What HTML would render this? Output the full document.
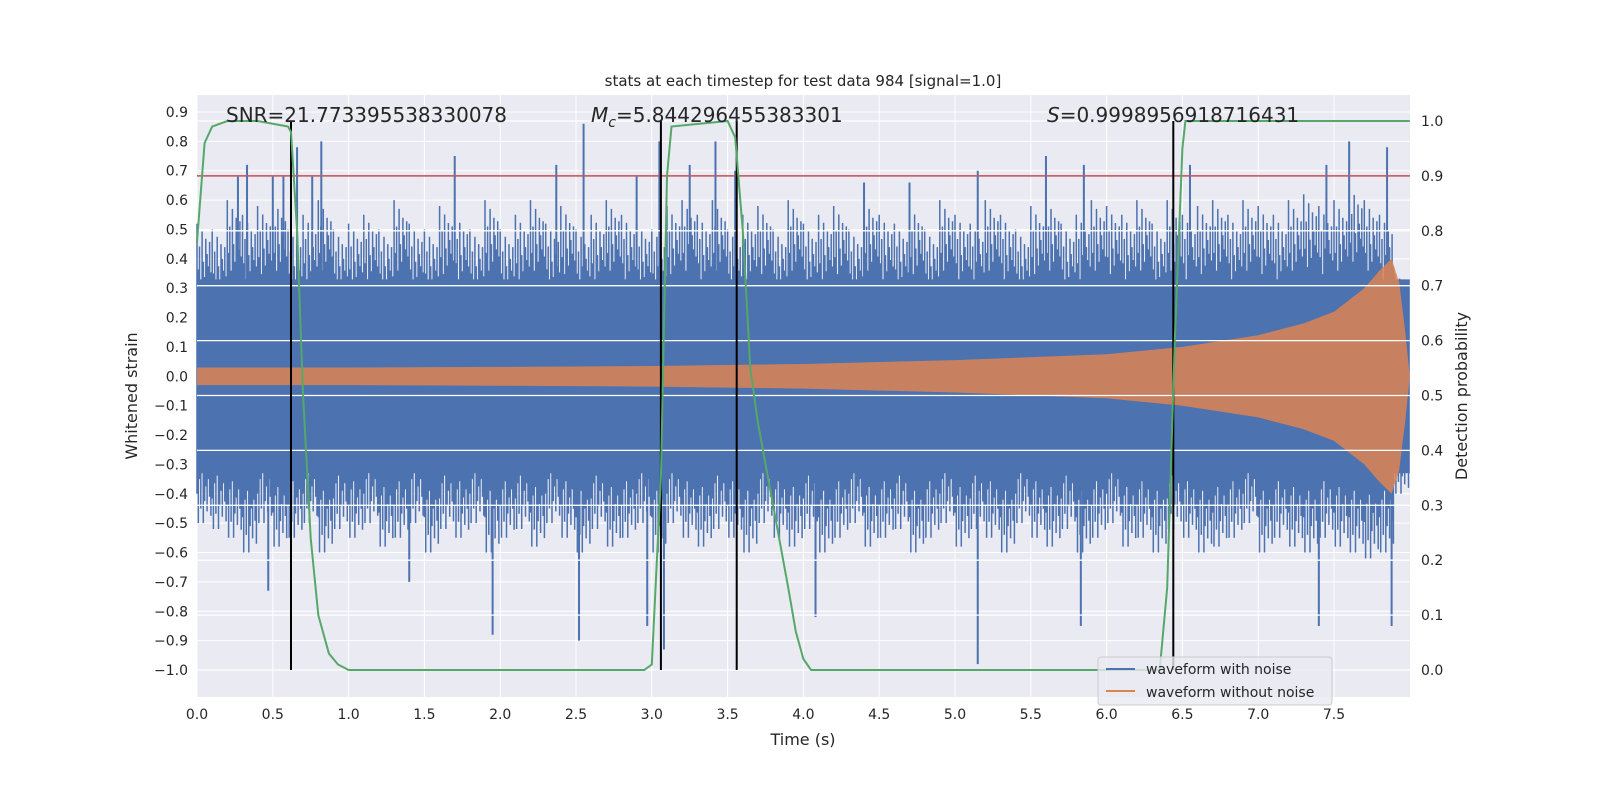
<!DOCTYPE html>
<html><head><meta charset="utf-8"><style>
html,body{margin:0;padding:0;width:1600px;height:800px;overflow:hidden;background:#fff}
svg{display:block}
svg text{font-family:"DejaVu Sans","Liberation Sans",sans-serif;fill:#262626}
</style></head><body>
<svg id="chart" width="1600" height="800" viewBox="0 0 1600 800">
<rect x="197" y="95" width="1213" height="602" fill="#eaeaf2"/>
<g id="grid"></g>
<g id="blue"></g>
<g id="orange"></g>
<g id="marks"></g>
<g id="green"></g>
<g id="axes"></g>
<text x="803" y="86" font-size="15" text-anchor="middle">stats at each timestep for test data 984 [signal=1.0]</text>
<text x="226" y="122" font-size="20">SNR=21.773395538330078</text>
<text x="591" y="122" font-size="20"><tspan font-style="italic">M</tspan><tspan font-size="14" dy="5" font-style="italic">c</tspan><tspan dy="-5">=5.844296455383301</tspan></text>
<text x="1047" y="122" font-size="20"><tspan font-style="italic">S</tspan>=0.9998956918716431</text>
<text x="803" y="745" font-size="16" text-anchor="middle">Time (s)</text>
<text transform="translate(137,396) rotate(-90)" font-size="16" text-anchor="middle">Whitened strain</text>
<text transform="translate(1467,396) rotate(-90)" font-size="16" text-anchor="middle">Detection probability</text>
<g>
<rect x="1098" y="657" width="234" height="48" rx="3" fill="#eaeaf2" fill-opacity="0.8" stroke="#ccc"/>
<line x1="1106" y1="669" x2="1135" y2="669" stroke="#4c72b0" stroke-width="2"/>
<text x="1146" y="674" font-size="14">waveform with noise</text>
<line x1="1106" y1="691" x2="1135" y2="691" stroke="#dd8452" stroke-width="2"/>
<text x="1146" y="697" font-size="14">waveform without noise</text>
</g>
</svg>
<script>
// data
const xTicks=[0,0.5,1,1.5,2,2.5,3,3.5,4,4.5,5,5.5,6,6.5,7,7.5];
const yTicks=[0.9,0.8,0.7,0.6,0.5,0.4,0.3,0.2,0.1,0,-0.1,-0.2,-0.3,-0.4,-0.5,-0.6,-0.7,-0.8,-0.9,-1.0];
const y2Ticks=[0,0.1,0.2,0.3,0.4,0.5,0.6,0.7,0.8,0.9,1.0];
// blue envelope sampled every 0.1s
const noiseUpper=[0.52,0.5,0.6,0.55,0.58,0.6,0.5,0.55,0.6,0.5,0.52,0.55,0.5,0.6,0.52,0.5,0.58,0.55,0.5,0.6,0.5,0.55,0.6,0.52,0.58,0.5,0.55,0.6,0.55,0.52,0.5,0.58,0.6,0.55,0.6,0.5,0.55,0.58,0.5,0.6,0.52,0.55,0.58,0.5,0.6,0.55,0.52,0.58,0.5,0.6,0.55,0.52,0.6,0.55,0.5,0.58,0.6,0.52,0.55,0.6,0.58,0.55,0.6,0.52,0.6,0.55,0.58,0.6,0.55,0.6,0.58,0.55,0.6,0.62,0.58,0.6,0.65,0.6,0.55,0.35];
const noiseLower=[-0.5,-0.52,-0.55,-0.6,-0.5,-0.58,-0.55,-0.5,-0.6,-0.52,-0.55,-0.5,-0.58,-0.55,-0.5,-0.6,-0.52,-0.55,-0.5,-0.6,-0.55,-0.52,-0.58,-0.5,-0.55,-0.6,-0.52,-0.58,-0.55,-0.5,-0.6,-0.5,-0.55,-0.58,-0.52,-0.55,-0.6,-0.5,-0.55,-0.58,-0.52,-0.6,-0.55,-0.5,-0.58,-0.55,-0.52,-0.6,-0.55,-0.5,-0.58,-0.52,-0.55,-0.6,-0.5,-0.55,-0.58,-0.52,-0.6,-0.55,-0.5,-0.58,-0.55,-0.6,-0.52,-0.55,-0.6,-0.58,-0.55,-0.5,-0.6,-0.55,-0.58,-0.6,-0.55,-0.58,-0.6,-0.62,-0.6,-0.4];
// tall spikes [time, value]
const spikeTimes=[0.27,0.33,0.5,0.57,0.66,0.76,0.82,1.7,2.37,2.55,2.9,3.05,3.25,3.42,3.55,4.4,4.7,5.15,5.6,5.85,6.55,7.45,7.6,7.85,0.47,1.4,1.95,2.52,2.97,3.08,4.08,5.15,5.83,7.4,7.88];
const spikeVals=[0.68,0.72,0.68,0.68,0.78,0.68,0.8,0.75,0.72,0.86,0.68,0.8,0.72,0.8,0.7,0.66,0.66,0.7,0.75,0.72,0.72,0.72,0.8,0.78,-0.73,-0.7,-0.88,-0.9,-0.85,-0.93,-0.82,-0.98,-0.85,-0.85,-0.85];
// orange envelope
const cleanT=[0,1,2,3,4,5,6,6.5,7,7.3,7.5,7.7,7.8,7.88,7.93,7.97,8.0];
const cleanAmp=[0.03,0.03,0.032,0.035,0.042,0.055,0.075,0.1,0.14,0.18,0.22,0.3,0.36,0.4,0.32,0.15,0.0];
// detection probability
const probT=[0,0.05,0.1,0.2,0.4,0.6,0.62,0.66,0.7,0.75,0.8,0.87,0.93,1.0,2.95,3.0,3.06,3.1,3.13,3.5,3.55,3.6,3.65,3.7,3.8,3.9,3.95,4.0,4.05,6.35,6.4,6.45,6.5,6.52,8.0];
const probV=[0.78,0.96,0.99,1.0,1.0,0.99,0.98,0.8,0.5,0.24,0.1,0.03,0.01,0.0,0.0,0.01,0.35,0.9,0.99,1.0,0.97,0.8,0.55,0.45,0.3,0.15,0.07,0.02,0.0,0.0,0.15,0.6,0.95,1.0,1.0];
const markerTimes=[0.62,3.06,3.56,6.44];
const threshold=0.9;

const NS='http://www.w3.org/2000/svg';
const X=t=>197+t*151.6;
const Y=v=>670-(v+1)*293.7;
const Y2=p=>670-p*549;
function mk(tag,attrs,parent){const e=document.createElementNS(NS,tag);for(const k in attrs)e.setAttribute(k,attrs[k]);parent.appendChild(e);return e;}
const g=id=>document.getElementById(id);

xTicks.forEach(t=>{const l=mk('line',{x1:X(t),x2:X(t),y1:95,y2:697,stroke:'#fff','stroke-width':1},g('grid'));


const tx=mk('text',{x:X(t),y:719,'font-size':14,'text-anchor':'middle'},g('axes'));tx.textContent=t.toFixed(1);

});
yTicks.forEach(v=>{const l=mk('line',{x1:197,x2:1410,y1:Y(v),y2:Y(v),stroke:'#fff','stroke-width':1},g('grid'));


const tx=mk('text',{x:188,y:Y(v)+5,'font-size':14,'text-anchor':'end'},g('axes'));tx.textContent=(v<0?'\u2212':'')+Math.abs(v).toFixed(1);

});
y2Ticks.forEach(p=>{const l=mk('line',{x1:197,x2:1410,y1:Y2(p),y2:Y2(p),stroke:'#fff','stroke-width':1.3},g('marks'));


const tx=mk('text',{x:1421,y:Y2(p)+5,'font-size':14},g('axes'));tx.textContent=p.toFixed(1);

});

// blue noise: jagged envelope via vertical strokes
let d='';
for(let i=0;i<noiseUpper.length;i++){
  for(let k=0;k<12;k++){const t=i*0.1+k*0.00833;const f=[1,0.7,0.85,0.6,0.95,0.75,0.65,0.9,0.8,0.72,0.88,0.68][k];
    d+=`M${X(t).toFixed(1)},${Y(noiseUpper[i]*f).toFixed(1)}V${Y(noiseLower[i]*[0.8,1,0.7,0.9,0.65,1,0.85,0.75,0.92,0.7,0.82,0.95][k]).toFixed(1)}`;}
}
const bp=mk('path',{d:d,stroke:'#4c72b0','stroke-width':1.5,fill:'none'},g('blue'));


const core=mk('rect',{x:X(0),y:Y(0.33),width:X(8)-X(0),height:Y(-0.33)-Y(0.33),fill:'#4c72b0'},g('blue'));


spikeTimes.forEach((t,i)=>{const l=mk('line',{x1:X(t),x2:X(t),y1:Y(0),y2:Y(spikeVals[i]),stroke:'#4c72b0','stroke-width':2},g('blue'));

});

// orange envelope band
let up=cleanT.map((t,i)=>`${X(t).toFixed(1)},${Y(cleanAmp[i]).toFixed(1)}`);
let lo=cleanT.map((t,i)=>`${X(t).toFixed(1)},${Y(-cleanAmp[i]).toFixed(1)}`).reverse();
const op=mk('polygon',{points:up.concat(lo).join(' '),fill:'#dd8452','fill-opacity':0.85},g('orange'));



// threshold and markers
const th=mk('line',{x1:197,x2:1410,y1:Y2(threshold),y2:Y2(threshold),stroke:'#c44e52','stroke-width':1.5},g('marks'));


markerTimes.forEach(t=>{const l=mk('line',{x1:X(t),x2:X(t),y1:Y2(1),y2:Y2(0),stroke:'#000','stroke-width':2},g('marks'));

});

const gp=mk('polyline',{points:probT.map((t,i)=>`${X(t).toFixed(1)},${Y2(probV[i]).toFixed(1)}`).join(' '),fill:'none',stroke:'#55a868','stroke-width':2},g('green'));


</script>
</body></html>
